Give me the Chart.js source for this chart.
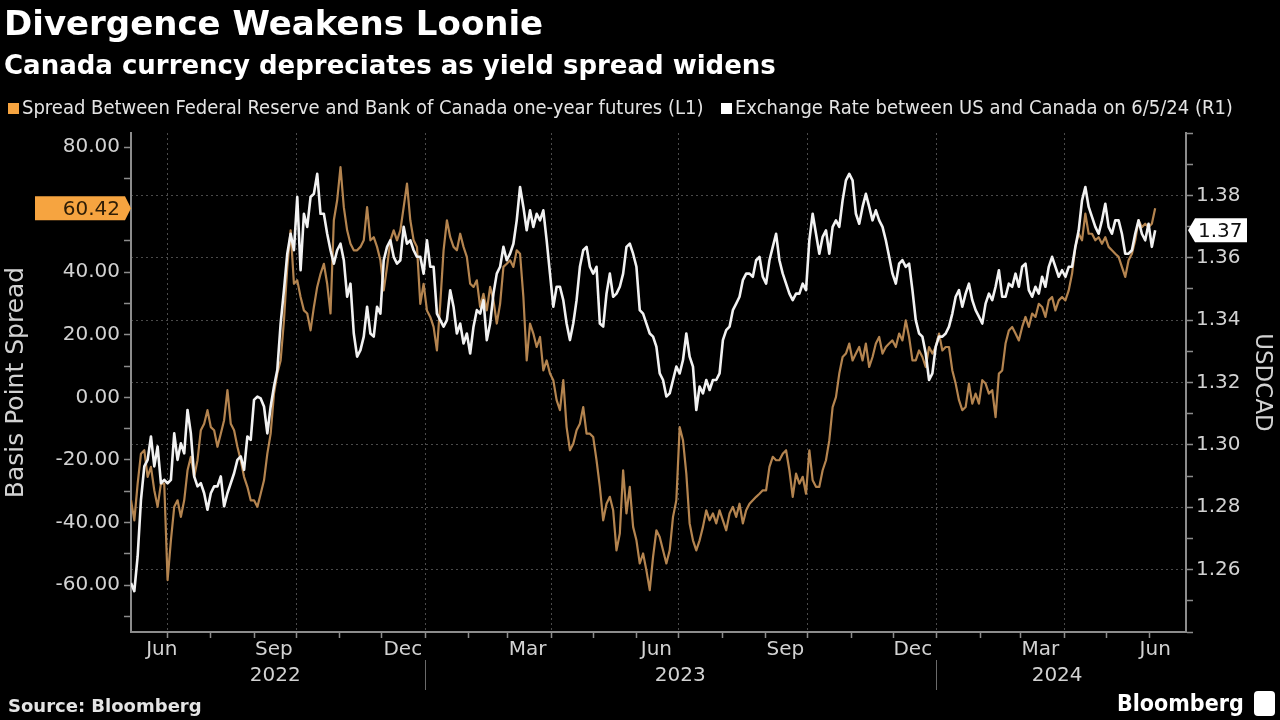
<!DOCTYPE html>
<html>
<head>
<meta charset="utf-8">
<title>Divergence Weakens Loonie</title>
<script src="https://cdn.jsdelivr.net/npm/chart.js@4.4.1/dist/chart.umd.min.js"></script>
<style>
  html, body { margin: 0; padding: 0; background: #000; }
  body { width: 1280px; height: 720px; position: relative; overflow: hidden; color: #fff; font-family: 'DejaVu Sans', sans-serif; }
  #chart { position: absolute; left: 0; top: 0; }
  #title { position: absolute; left: 4px; top: 3px; font: bold 34px/40px 'DejaVu Sans', sans-serif; white-space: nowrap; }
  #subtitle { position: absolute; left: 4px; top: 50px; font: bold 26px/30px 'DejaVu Sans', sans-serif; white-space: nowrap; }
  .legend { position: absolute; top: 96px; font: 20px/22px 'DejaVu Sans Condensed', 'DejaVu Sans', sans-serif; color: #e4e4e4; white-space: nowrap; }
  .legend i { display: inline-block; width: 11px; height: 11px; margin-right: 3px; }
  #source { position: absolute; left: 8px; top: 695px; font: bold 18px/22px 'DejaVu Sans', sans-serif; color: #e4e4e4; white-space: nowrap; }
  #brand { position: absolute; left: 1117px; top: 689px; font: bold 23px/28px 'DejaVu Sans Condensed', 'DejaVu Sans', sans-serif; color: #fff; white-space: nowrap; }
  #brand-icon { position: absolute; left: 1254px; top: 691px; width: 21px; height: 25px; background: #fff; border-radius: 4px; }
</style>
</head>
<body>
<canvas id="chart" width="1280" height="720"></canvas>
<div id="title">Divergence Weakens Loonie</div>
<div id="subtitle">Canada currency depreciates as yield spread widens</div>
<div class="legend" style="left: 8px;"><i style="background:#f6a440"></i>Spread Between Federal Reserve and Bank of Canada one-year futures (L1)</div>
<div class="legend" style="left: 721px;"><i style="background:#ffffff"></i>Exchange Rate between US and Canada on 6/5/24 (R1)</div>
<div id="source">Source: Bloomberg</div>
<div id="brand">Bloomberg</div>
<div id="brand-icon"></div>

<script>
// spread between Fed and BoC one-year futures, basis points (L1)
const spreadBp = [
  -32.9, -39.3, -27.6, -18.0, -16.9, -25.4, -22.2, -29.7, -35.0, -27.6,
  -27.6, -58.4, -45.7, -35.0, -32.9, -38.2, -32.9, -23.3, -19.0, -25.4,
  -20.1, -10.5, -8.4, -4.1, -9.5, -10.5, -15.8, -11.6, -7.3, 2.3,
  -8.4, -10.5, -15.8, -20.1, -25.4, -28.6, -32.9, -32.9, -35.0, -30.8,
  -26.5, -18.0, -11.6, 1.2, 7.6, 11.8, 24.6, 41.7, 53.4, 36.3,
  37.4, 32.1, 27.8, 26.8, 21.4, 28.9, 35.3, 39.5, 42.7, 36.3,
  26.8, 56.6, 63.0, 73.6, 60.8, 53.4, 49.1, 47.0, 47.0, 48.1,
  50.2, 60.8, 50.2, 51.2, 48.1, 43.8, 34.2, 41.7, 50.2, 53.4,
  50.2, 53.4, 60.8, 68.3, 56.6, 50.2, 48.1,
  29.9, 36.3, 27.8, 25.7, 22.5, 15.0, 29.9, 47.0, 56.6, 51.2,
  48.1, 47.0, 52.3, 48.1, 44.9, 36.3, 35.3, 37.4, 28.9, 33.1,
  27.8, 35.3, 31.0, 23.6, 29.9, 41.7, 42.7, 43.8, 41.7, 47.0,
  45.9, 32.1, 11.8, 23.6, 20.4, 16.1, 19.3, 8.6, 11.8, 7.6,
  5.5, -0.9, -4.1, 5.5, -9.5, -16.9, -14.8, -10.5, -8.4, -3.1,
  -11.6, -11.6, -12.7, -20.1, -28.6, -39.3, -34.0, -31.8, -36.1, -48.9,
  -43.5, -23.3, -37.1, -28.6, -41.4, -45.7, -53.1, -49.9, -55.3, -61.6,
  -51.0, -42.5, -44.6, -48.9, -53.1, -48.9, -38.2, -32.9, -9.5, -13.7,
  -24.4, -40.3, -45.7, -48.9, -45.7, -41.4, -36.1, -39.3, -37.1, -40.3,
  -36.1, -39.3, -42.5, -37.1, -35.0, -38.2, -34.0, -40.3, -36.1, -34.0,
  -32.9, -31.8, -30.8, -29.7, -29.7, -22.2, -19.0, -20.1, -20.1, -18.0,
  -16.9, -23.3, -31.8, -24.4, -27.6, -25.4, -30.8, -16.9, -26.5, -28.6,
  -28.6, -23.3, -20.1, -13.7, -3.1, 0.1, 7.6, 12.9, 14.0, 17.2,
  11.8, 14.0, 16.1, 11.8, 17.2, 9.7, 12.9, 17.2, 19.3, 14.0,
  16.1, 17.2, 18.2, 16.1, 20.4, 18.2, 24.6, 19.3, 11.8, 11.8,
  15.0, 12.9, 9.7, 16.1, 14.0, 16.1, 20.4, 15.0, 16.1,
  16.1, 8.6, 4.4, -0.9, -4.1, -3.1, 4.4, -2.0, 1.2, -2.0,
  5.5, 4.4, 1.2, 2.3, -6.3, 7.6, 8.6, 17.2, 21.4, 22.5,
  20.4, 18.2, 22.5, 25.7, 22.5, 26.8, 25.7, 29.9, 28.9, 25.7,
  31.0, 32.1, 27.8, 31.0, 32.1, 31.0, 34.2, 39.5, 48.1, 52.3,
  50.2, 58.7, 52.3, 52.3, 50.2, 51.2, 49.1, 51.2, 48.1, 47.0,
  45.9, 44.9, 41.7, 38.5, 43.8, 45.9, 50.2, 56.6, 54.4, 55.5,
  54.4, 55.5, 60.42
];

// USD/CAD exchange rate (R1)
const usdcad = [
  1.2557, 1.2531, 1.2643, 1.2824, 1.2931, 1.2952, 1.3027, 1.2931, 1.2995, 1.2877,
  1.2888, 1.2877, 1.2888, 1.3037, 1.2952, 1.3005, 1.2973, 1.3112, 1.3037, 1.2899,
  1.2867, 1.2877, 1.2845, 1.2792, 1.2845, 1.2867, 1.2867, 1.2899, 1.2803, 1.2845,
  1.2877, 1.2909, 1.2952, 1.2963, 1.2920, 1.3027, 1.3016, 1.3144, 1.3155, 1.3149,
  1.3123, 1.3037, 1.3123, 1.3187, 1.3240, 1.3389, 1.3496, 1.3613, 1.3677, 1.3624,
  1.3795, 1.3560, 1.3741, 1.3699, 1.3795, 1.3805, 1.3869, 1.3741, 1.3741, 1.3677,
  1.3624, 1.3581, 1.3624, 1.3645, 1.3592, 1.3475, 1.3517, 1.3357, 1.3283, 1.3304,
  1.3347, 1.3443, 1.3357, 1.3347, 1.3443, 1.3421, 1.3592, 1.3635, 1.3656, 1.3603,
  1.3581, 1.3592, 1.3699, 1.3645, 1.3656, 1.3624, 1.3603,
  1.3603, 1.3549, 1.3656, 1.3571, 1.3571, 1.3421, 1.3400, 1.3379, 1.3400, 1.3496,
  1.3443, 1.3357, 1.3389, 1.3325, 1.3357, 1.3293, 1.3379, 1.3432, 1.3421, 1.3464,
  1.3336, 1.3389, 1.3485, 1.3549, 1.3571, 1.3635, 1.3592, 1.3613, 1.3645, 1.3720,
  1.3827, 1.3763, 1.3688, 1.3752, 1.3699, 1.3741, 1.3720, 1.3752, 1.3656, 1.3549,
  1.3443, 1.3507, 1.3507, 1.3464, 1.3389, 1.3336, 1.3389, 1.3464, 1.3571, 1.3624,
  1.3635, 1.3571, 1.3549, 1.3571, 1.3389, 1.3379, 1.3485, 1.3549, 1.3475, 1.3485,
  1.3507, 1.3549, 1.3635, 1.3645, 1.3613, 1.3571, 1.3432, 1.3421, 1.3389, 1.3357,
  1.3347, 1.3315, 1.3229, 1.3208, 1.3155, 1.3165, 1.3208, 1.3251, 1.3229, 1.3272,
  1.3357, 1.3283, 1.3251, 1.3112, 1.3187, 1.3165, 1.3208, 1.3176, 1.3208, 1.3208,
  1.3229, 1.3336, 1.3368, 1.3379, 1.3432, 1.3453, 1.3475, 1.3528, 1.3549, 1.3549,
  1.3539, 1.3592, 1.3603, 1.3539, 1.3517, 1.3592, 1.3635, 1.3677, 1.3592, 1.3549,
  1.3517, 1.3485, 1.3464, 1.3485, 1.3485, 1.3517, 1.3496, 1.3656, 1.3741, 1.3677,
  1.3613, 1.3667, 1.3688, 1.3613, 1.3699, 1.3720, 1.3699, 1.3784, 1.3848, 1.3869,
  1.3848, 1.3741, 1.3709, 1.3763, 1.3805, 1.3763, 1.3720, 1.3752, 1.3720, 1.3699,
  1.3656, 1.3603, 1.3549, 1.3517, 1.3581, 1.3592, 1.3571, 1.3581, 1.3496, 1.3400,
  1.3357, 1.3347, 1.3293, 1.3208, 1.3229, 1.3315, 1.3347, 1.3347, 1.3357,
  1.3379, 1.3421, 1.3475, 1.3496, 1.3443, 1.3485, 1.3517, 1.3464, 1.3432, 1.3411,
  1.3389, 1.3453, 1.3485, 1.3464, 1.3507, 1.3560, 1.3475, 1.3475, 1.3517, 1.3507,
  1.3549, 1.3507, 1.3571, 1.3581, 1.3496, 1.3475, 1.3507, 1.3485, 1.3539, 1.3507,
  1.3571, 1.3603, 1.3571, 1.3539, 1.3560, 1.3539, 1.3571, 1.3571, 1.3635, 1.3688,
  1.3784, 1.3827, 1.3763, 1.3731, 1.3699, 1.3677, 1.3720, 1.3773, 1.3699, 1.3677,
  1.3720, 1.3720, 1.3677, 1.3613, 1.3613, 1.3624, 1.3677, 1.3720, 1.3677, 1.3656,
  1.3709, 1.3635, 1.3688
];

// series run at an even step between these two dates
const firstDate = '2022-06-05';
const lastDate = '2024-06-05';
const axisStart = '2022-06-05';
const axisEnd = '2024-06-27';

const monthLabels = ['Jun', 'Sep', 'Dec', 'Mar', 'Jun', 'Sep', 'Dec', 'Mar', 'Jun'];
const monthLabelDates = ['2022-06-27', '2022-09-15', '2022-12-16', '2023-03-15', '2023-06-15',
                         '2023-09-15', '2023-12-15', '2024-03-15', '2024-06-05'];
const yearLabels = ['2022', '2023', '2024'];
const yearLabelDates = ['2022-09-16', '2023-07-02', '2024-03-27'];
const yearBreakDates = ['2023-01-01', '2024-01-01'];

const spreadRange = [-75, 84.5];
const usdcadRange = [1.24, 1.40];

// ---------------------------------------------------------------

const EPOCH = Date.UTC(2022, 0, 1);
const dayOf = s => {
  const [y, m, d] = s.split('-').map(Number);
  return (Date.UTC(y, m - 1, d) - EPOCH) / 864e5;
};

const d0 = dayOf(firstDate);
const stepDays = (dayOf(lastDate) - d0) / (spreadBp.length - 1);
const sampleDays = spreadBp.map((_, i) => d0 + i * stepDays);

const monthStartDays = Array.from({ length: 24 }, (_, k) => (Date.UTC(2022, 6 + k, 1) - EPOCH) / 864e5);
const quarterStartDays = monthStartDays.filter((_, k) => (6 + k) % 3 === 0);
const monthLabelDays = monthLabelDates.map(dayOf);
const yearLabelDays = yearLabelDates.map(dayOf);
const yearBreakDays = yearBreakDates.map(dayOf);

const AXIS_GREY = '#8c8c8c';
const GRID_GREY = '#4a4a4a';
const TEXT_GREY = '#d2d2d2';
const NONE = 'rgba(0,0,0,0)';
const tickFont = { family: "'DejaVu Sans', sans-serif", size: 20 };

const tickOf = c => (c.tick ? c.tick.value : NaN);

const lastValueTags = {
  id: 'lastValueTags',
  afterDraw(chart) {
    const { ctx } = chart;
    const yL = chart.scales.yL;
    const yR = chart.scales.yR;
    const lastSpread = spreadBp[spreadBp.length - 1];
    const lastFx = usdcad[usdcad.length - 1];
    ctx.save();
    ctx.font = `${tickFont.size}px ${tickFont.family}`;
    ctx.textBaseline = 'middle';

    // left tag (orange)
    let y = yL.getPixelForValue(lastSpread);
    let tip = yL.right;
    ctx.beginPath();
    ctx.moveTo(tip, y);
    ctx.lineTo(tip - 6, y - 12);
    ctx.lineTo(35, y - 12);
    ctx.lineTo(35, y + 12);
    ctx.lineTo(tip - 6, y + 12);
    ctx.closePath();
    ctx.fillStyle = '#f6a440';
    ctx.fill();
    ctx.fillStyle = '#2e1d06';
    ctx.textAlign = 'right';
    ctx.fillText(lastSpread.toFixed(2), tip - 11, y + 1);

    // right tag (white)
    y = yR.getPixelForValue(lastFx);
    tip = yR.left + 2;
    ctx.beginPath();
    ctx.moveTo(tip, y);
    ctx.lineTo(tip + 7, y - 12);
    ctx.lineTo(1247, y - 12);
    ctx.lineTo(1247, y + 12);
    ctx.lineTo(tip + 7, y + 12);
    ctx.closePath();
    ctx.fillStyle = '#ffffff';
    ctx.fill();
    ctx.fillStyle = '#111';
    ctx.textAlign = 'left';
    ctx.fillText(lastFx.toFixed(2), tip + 10, y + 1);
    ctx.restore();
  }
};

new Chart(document.getElementById('chart'), {
  type: 'line',
  data: {
    datasets: [
      {
        label: 'Spread Between Federal Reserve and Bank of Canada one-year futures (L1)',
        data: spreadBp.map((v, i) => ({ x: sampleDays[i], y: v })),
        yAxisID: 'yL',
        borderColor: '#b4844f',
        borderWidth: 2.2,
        order: 1,
      },
      {
        label: 'Exchange Rate between US and Canada on 6/5/24 (R1)',
        data: usdcad.map((v, i) => ({ x: sampleDays[i], y: v })),
        yAxisID: 'yR',
        borderColor: '#f2f2f2',
        borderWidth: 2.6,
        order: 0,
      }
    ]
  },
  options: {
    responsive: false,
    devicePixelRatio: 1,
    animation: false,
    events: [],
    elements: { point: { radius: 0 }, line: { tension: 0, borderJoinStyle: 'round' } },
    layout: { padding: { left: 0, right: 0, top: 133, bottom: 28 } },
    plugins: { legend: { display: false }, tooltip: { enabled: false } },
    scales: {
      x: {
        type: 'linear',
        position: 'bottom',
        weight: 0,
        min: dayOf(axisStart),
        max: dayOf(axisEnd),
        afterBuildTicks: s => {
          s.ticks = [...monthStartDays, ...monthLabelDays]
            .sort((a, b) => a - b)
            .map(v => ({ value: v }));
        },
        afterFit: s => { s.height = 28; },
        ticks: {
          autoSkip: false,
          maxRotation: 0,
          padding: 0,
          color: TEXT_GREY,
          font: tickFont,
          callback: v => {
            const i = monthLabelDays.indexOf(v);
            return i >= 0 ? monthLabels[i] : '';
          }
        },
        grid: {
          color: c => quarterStartDays.includes(tickOf(c)) ? GRID_GREY : NONE,
          tickColor: c => monthStartDays.includes(tickOf(c)) ? AXIS_GREY : NONE,
          tickLength: 6,
          tickWidth: 1.5,
          lineWidth: 1,
        },
        border: { color: AXIS_GREY, width: 2, dash: [2, 3] }
      },
      xYear: {
        type: 'linear',
        position: 'bottom',
        weight: 1,
        min: dayOf(axisStart),
        max: dayOf(axisEnd),
        afterBuildTicks: s => {
          s.ticks = [...yearLabelDays, ...yearBreakDays]
            .sort((a, b) => a - b)
            .map(v => ({ value: v }));
        },
        afterFit: s => { s.height = 32; },
        ticks: {
          autoSkip: false,
          maxRotation: 0,
          padding: -26,
          color: TEXT_GREY,
          font: tickFont,
          callback: v => {
            const i = yearLabelDays.indexOf(v);
            return i >= 0 ? yearLabels[i] : '';
          }
        },
        grid: {
          drawOnChartArea: false,
          tickLength: 30,
          tickWidth: 1,
          tickColor: c => yearBreakDays.includes(tickOf(c)) ? '#6a6a6a' : NONE,
        },
        border: { display: false }
      },
      yL: {
        type: 'linear',
        position: 'left',
        min: spreadRange[0],
        max: spreadRange[1],
        afterFit: s => { s.width = 131; },
        ticks: {
          stepSize: 10,
          includeBounds: false,
          padding: 4,
          color: TEXT_GREY,
          font: tickFont,
          callback: v => (Math.round(v) % 20 === 0 ? v.toFixed(2) : '')
        },
        grid: { drawOnChartArea: false, tickColor: AXIS_GREY, tickLength: 7, tickWidth: 1.5 },
        border: { color: AXIS_GREY, width: 2 },
        title: { display: true, text: 'Basis Point Spread', color: TEXT_GREY,
                 font: { family: "'DejaVu Sans', sans-serif", size: 25 }, padding: { top: 1, bottom: 0 } }
      },
      yR: {
        type: 'linear',
        position: 'right',
        min: usdcadRange[0],
        max: usdcadRange[1],
        afterFit: s => { s.width = 94; },
        ticks: {
          stepSize: 0.01,
          includeBounds: false,
          padding: 3,
          color: TEXT_GREY,
          font: tickFont,
          callback: v => {
            const c = Math.round(v * 100);
            return (c % 2 === 0 && c > 124 && c < 140) ? v.toFixed(2) : '';
          }
        },
        grid: {
          color: c => {
            const h = Math.round(tickOf(c) * 100);
            return (h % 2 === 0 && h > 124 && h < 140) ? GRID_GREY : NONE;
          },
          tickColor: AXIS_GREY,
          tickLength: 7,
          tickWidth: 1.5,
          lineWidth: 1,
        },
        border: { color: AXIS_GREY, width: 2, dash: [2, 3] },
        title: { display: true, text: 'USDCAD', color: TEXT_GREY,
                 font: { family: "'DejaVu Sans', sans-serif", size: 23 }, padding: { top: 4, bottom: 0 } }
      }
    }
  },
  plugins: [lastValueTags]
});
</script>
</body>
</html>
